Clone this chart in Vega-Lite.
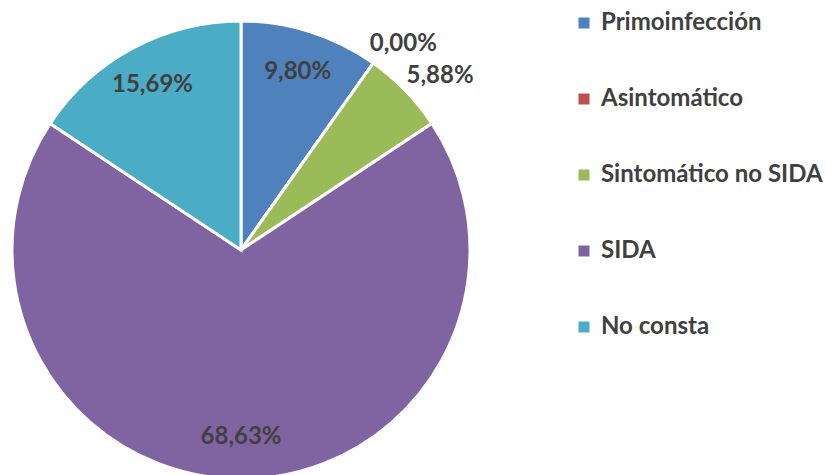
{
  "$schema": "https://vega.github.io/schema/vega-lite/v6.json",
  "width": 482,
  "height": 450,
  "autosize": {"type": "none"},
  "padding": {"left": 0, "top": 25, "right": 345, "bottom": 0},
  "background": "white",
  "config": {"view": {"stroke": null}},
  "data": {
    "values": [
      {"estadio": "Primoinfección", "pct": 9.80, "label": "9,80%", "placement": "inside", "orden": 1},
      {"estadio": "Asintomático", "pct": 0.00, "label": "0,00%", "placement": "outside", "orden": 2},
      {"estadio": "Sintomático no SIDA", "pct": 5.88, "label": "5,88%", "placement": "outside", "orden": 3},
      {"estadio": "SIDA", "pct": 68.63, "label": "68,63%", "placement": "inside", "orden": 4},
      {"estadio": "No consta", "pct": 15.69, "label": "15,69%", "placement": "inside", "orden": 5}
    ]
  },
  "transform": [
    {"stack": "pct", "groupby": [], "sort": [{"field": "orden"}], "as": ["s0", "s1"]},
    {"calculate": "(datum.s0 + datum.s1) / 2", "as": "mid"}
  ],
  "layer": [
    {
      "mark": {"type": "arc", "outerRadius": 229, "stroke": "white", "strokeWidth": 3},
      "encoding": {
        "theta": {"field": "s0", "type": "quantitative", "scale": {"domain": [0, 100]}},
        "theta2": {"field": "s1"},
        "color": {
          "field": "estadio",
          "type": "nominal",
          "sort": ["Primoinfección", "Asintomático", "Sintomático no SIDA", "SIDA", "No consta"],
          "scale": {
            "domain": ["Primoinfección", "Asintomático", "Sintomático no SIDA", "SIDA", "No consta"],
            "range": ["#4F81BD", "#C0504D", "#9BBB59", "#8064A2", "#4BACC6"]
          },
          "legend": {
            "title": null,
            "orient": "none",
            "legendX": 572,
            "legendY": -14,
            "symbolType": "square",
            "symbolSize": 121,
            "symbolStrokeWidth": 0,
            "labelFont": "Lato",
            "labelFontWeight": "bold",
            "labelFontSize": 24,
            "labelColor": "#404040",
            "labelOffset": 5,
            "rowPadding": 52,
            "labelLimit": 300
          }
        }
      }
    },
    {
      "transform": [{"filter": "datum.placement == 'inside'"}],
      "mark": {"type": "text", "radius": 187, "font": "Lato", "fontWeight": "bold", "fontSize": 24, "fill": "#404040", "align": "center", "baseline": "middle"},
      "encoding": {
        "theta": {"field": "mid", "type": "quantitative", "scale": {"domain": [0, 100]}},
        "text": {"field": "label", "type": "nominal"}
      }
    },
    {
      "transform": [{"filter": "datum.placement == 'outside'"}],
      "mark": {"type": "text", "radius": 262, "dx": 11, "dy": 8, "font": "Lato", "fontWeight": "bold", "fontSize": 24, "fill": "#404040", "align": "center", "baseline": "middle"},
      "encoding": {
        "theta": {"field": "mid", "type": "quantitative", "scale": {"domain": [0, 100]}},
        "text": {"field": "label", "type": "nominal"}
      }
    }
  ]
}
